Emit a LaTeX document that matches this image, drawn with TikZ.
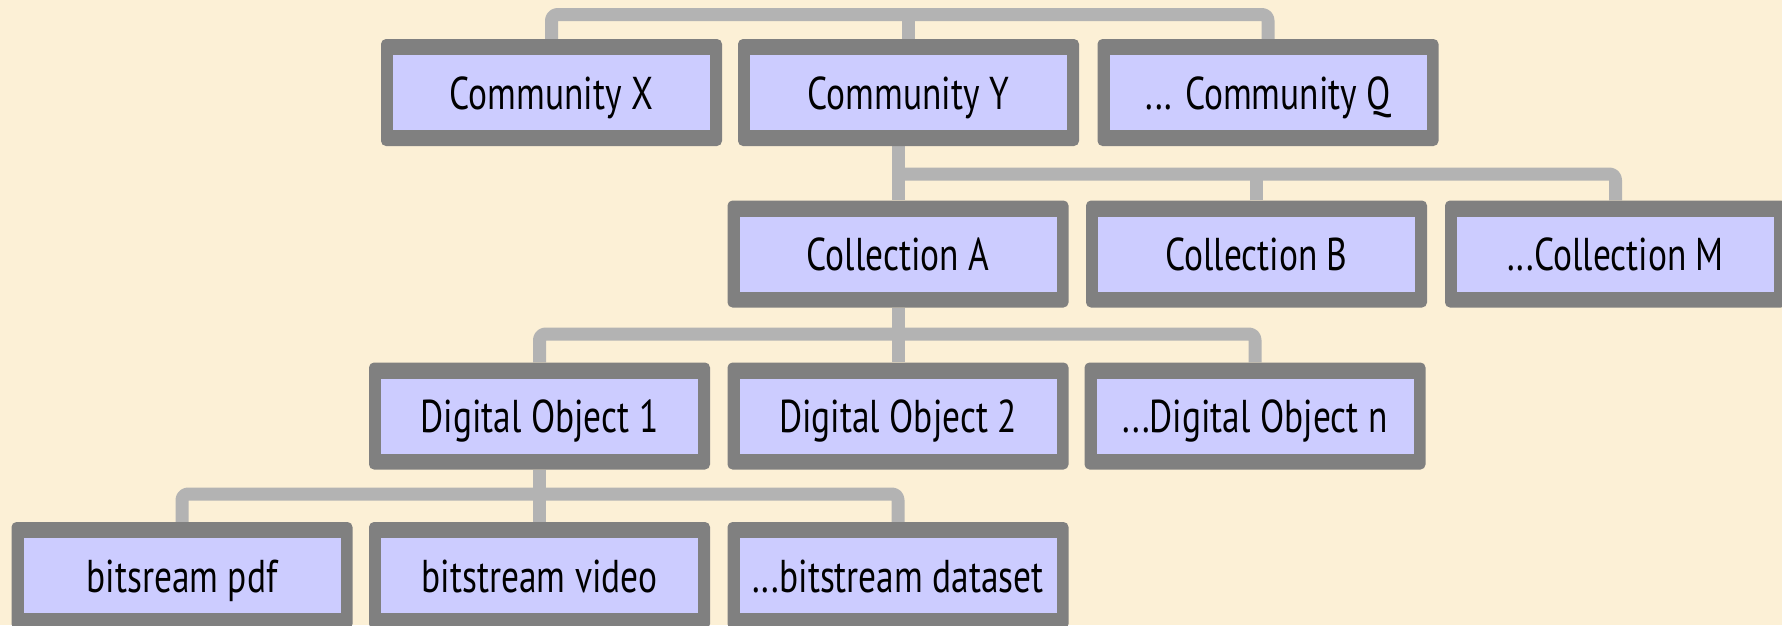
\documentclass[tikz,border=0pt]{standalone}
\usepackage{fontspec}
\setmainfont[FakeStretch=0.77]{PT Sans}
\pgfdeclarelayer{background}
\pgfsetlayers{background,main}
\definecolor{bgcol}{RGB}{252,240,214}
\definecolor{bordercol}{RGB}{128,128,128}
\definecolor{fillcol}{RGB}{204,204,255}
\definecolor{conncol}{RGB}{179,179,179}
\tikzset{
  box/.style={minimum width=341pt, minimum height=107pt, inner sep=0pt,
    fill=bordercol, rounded corners=5pt, text=black,
    text height=33pt, text depth=0pt,
    font=\fontsize{46}{52}\selectfont,
    path picture={\fill[fillcol, sharp corners] ([xshift=12pt,yshift=16pt]path picture bounding box.south west) rectangle ([xshift=-12pt,yshift=-16pt]path picture bounding box.north east);}},
  conn/.style={draw=conncol, line width=13pt, rounded corners=6pt, line join=round}
}
\begin{document}
\begin{tikzpicture}[x=1pt,y=-1pt]
\useasboundingbox (0,0) rectangle (1782,625);
% row 1
\node[box] (cx) at (551.5,92.5) {Community X};
\node[box] (cy) at (908.5,92.5) {Community Y};
\node[box] (cq) at (1268,92.5) {... Community Q};
% row 2
\node[box] (ca) at (898,254) {Collection A};
\node[box] (cb) at (1256.5,254) {Collection B};
\node[box] (cm) at (1615.5,254) {...Collection M};
% row 3
\node[box] (d1) at (539.5,416) {Digital Object 1};
\node[box] (d2) at (898,416) {Digital Object 2};
\node[box] (dn) at (1255,416) {...Digital Object n};
% row 4
\node[box] (bp) at (182,575.5) {bitsream pdf};
\node[box] (bv) at (539.5,575.5) {bitstream video};
\node[box] (bd) at (898,575.5) {...bitstream dataset};
\coordinate (r1) at (0,14.5);
\coordinate (r2) at (0,174);
\coordinate (r3) at (0,334);
\coordinate (r4) at (0,494);
\begin{pgfonlayer}{background}
\fill[bgcol] (0,0) rectangle (1782,625);
\draw[conn] (cx.north) -- (cx.north |- r1) -| (cq.north);
\draw[conn] (cy.north) -- (cy.north |- r1);
\draw[conn] (cy.south -| ca.north) -- (ca.north);
\draw[conn] (ca.north |- r2) -| (cm.north);
\draw[conn] (cb.north) -- (cb.north |- r2);
\draw[conn] (ca.south) -- (d2.north);
\draw[conn] (d1.north) -- (d1.north |- r3) -| (dn.north);
\draw[conn] (d1.south) -- (bv.north);
\draw[conn] (bp.north) -- (bp.north |- r4) -| (bd.north);
\end{pgfonlayer}
\end{tikzpicture}
\end{document}
